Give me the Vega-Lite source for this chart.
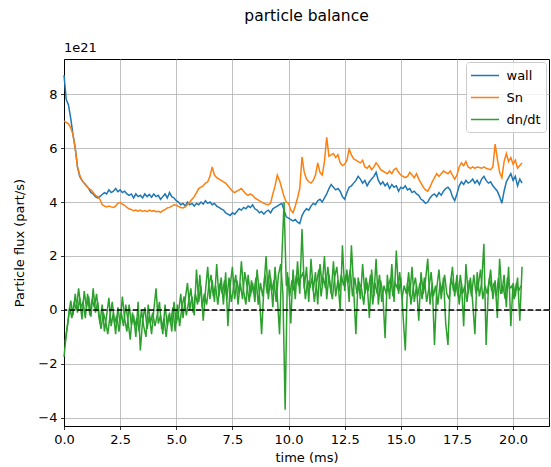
{
"$schema": "https://vega.github.io/schema/vega-lite/v6.json",
"width": 485, "height": 367,
"autosize": {"type": "none"},
"padding": {"left": 64, "top": 59, "right": 2, "bottom": 41},
"title": {"text": "particle balance", "fontSize": 15.5, "fontWeight": "normal", "anchor": "middle", "offset": 18, "color": "black"},
"datasets": {"pb": [
{"t":0.0,"wall":8.7,"Sn":7.0,"dn/dt":-1.74},
{"t":0.1,"wall":7.8,"Sn":6.95,"dn/dt":-0.9},
{"t":0.2,"wall":7.6,"Sn":6.9,"dn/dt":-0.3},
{"t":0.3,"wall":7.1,"Sn":6.75,"dn/dt":0.35},
{"t":0.4,"wall":6.5,"Sn":6.5,"dn/dt":-0.2},
{"t":0.5,"wall":6.0,"Sn":6.0,"dn/dt":0.6},
{"t":0.6,"wall":5.3,"Sn":5.3,"dn/dt":-0.1},
{"t":0.7,"wall":4.95,"Sn":5.0,"dn/dt":0.45},
{"t":0.8,"wall":4.8,"Sn":4.8,"dn/dt":-0.35},
{"t":0.9,"wall":4.7,"Sn":4.7,"dn/dt":0.7},
{"t":1.0,"wall":4.6,"Sn":4.6,"dn/dt":0.1},
{"t":1.1,"wall":4.5,"Sn":4.5,"dn/dt":0.5},
{"t":1.2,"wall":4.35,"Sn":4.45,"dn/dt":-0.25},
{"t":1.3,"wall":4.3,"Sn":4.35,"dn/dt":0.8},
{"t":1.4,"wall":4.2,"Sn":4.25,"dn/dt":-0.1},
{"t":1.5,"wall":4.15,"Sn":4.2,"dn/dt":0.3},
{"t":1.6,"wall":4.2,"Sn":4.1,"dn/dt":-0.5},
{"t":1.7,"wall":4.28,"Sn":3.9,"dn/dt":0.2},
{"t":1.8,"wall":4.35,"Sn":3.85,"dn/dt":-0.8},
{"t":1.9,"wall":4.3,"Sn":3.82,"dn/dt":-0.2},
{"t":2.0,"wall":4.45,"Sn":3.85,"dn/dt":0.45},
{"t":2.1,"wall":4.35,"Sn":3.82,"dn/dt":-0.6},
{"t":2.2,"wall":4.4,"Sn":3.8,"dn/dt":-0.1},
{"t":2.3,"wall":4.5,"Sn":3.85,"dn/dt":-0.9},
{"t":2.4,"wall":4.38,"Sn":3.95,"dn/dt":0.1},
{"t":2.5,"wall":4.45,"Sn":3.98,"dn/dt":-0.5},
{"t":2.6,"wall":4.35,"Sn":3.92,"dn/dt":0.5},
{"t":2.7,"wall":4.4,"Sn":3.88,"dn/dt":-0.3},
{"t":2.8,"wall":4.3,"Sn":3.8,"dn/dt":-0.8},
{"t":2.9,"wall":4.25,"Sn":3.75,"dn/dt":0.2},
{"t":3.0,"wall":4.3,"Sn":3.72,"dn/dt":-0.55},
{"t":3.1,"wall":4.15,"Sn":3.68,"dn/dt":-0.2},
{"t":3.2,"wall":4.3,"Sn":3.7,"dn/dt":-1.0},
{"t":3.3,"wall":4.2,"Sn":3.66,"dn/dt":0.3},
{"t":3.4,"wall":4.25,"Sn":3.7,"dn/dt":-1.5},
{"t":3.5,"wall":4.15,"Sn":3.65,"dn/dt":-0.4},
{"t":3.6,"wall":4.3,"Sn":3.68,"dn/dt":0.1},
{"t":3.7,"wall":4.2,"Sn":3.64,"dn/dt":-0.7},
{"t":3.8,"wall":4.28,"Sn":3.7,"dn/dt":-0.2},
{"t":3.9,"wall":4.18,"Sn":3.66,"dn/dt":-0.9},
{"t":4.0,"wall":4.3,"Sn":3.68,"dn/dt":0.0},
{"t":4.1,"wall":4.2,"Sn":3.64,"dn/dt":0.8},
{"t":4.2,"wall":4.25,"Sn":3.66,"dn/dt":-0.5},
{"t":4.3,"wall":4.1,"Sn":3.62,"dn/dt":-0.2},
{"t":4.4,"wall":4.2,"Sn":3.68,"dn/dt":-0.9},
{"t":4.5,"wall":4.3,"Sn":3.72,"dn/dt":0.2},
{"t":4.6,"wall":4.15,"Sn":3.78,"dn/dt":-0.6},
{"t":4.7,"wall":4.35,"Sn":3.8,"dn/dt":-0.1},
{"t":4.8,"wall":4.2,"Sn":3.85,"dn/dt":-0.8},
{"t":4.9,"wall":4.15,"Sn":3.9,"dn/dt":0.3},
{"t":5.0,"wall":4.05,"Sn":3.88,"dn/dt":-0.5},
{"t":5.1,"wall":4.0,"Sn":3.84,"dn/dt":-0.1},
{"t":5.2,"wall":3.9,"Sn":3.8,"dn/dt":0.6},
{"t":5.3,"wall":3.95,"Sn":3.78,"dn/dt":-0.3},
{"t":5.4,"wall":3.85,"Sn":3.82,"dn/dt":0.4},
{"t":5.5,"wall":4.0,"Sn":3.9,"dn/dt":1.0},
{"t":5.6,"wall":3.9,"Sn":4.0,"dn/dt":0.0},
{"t":5.7,"wall":3.95,"Sn":4.1,"dn/dt":0.5},
{"t":5.8,"wall":3.85,"Sn":4.2,"dn/dt":-0.2},
{"t":5.9,"wall":3.95,"Sn":4.35,"dn/dt":1.5},
{"t":6.0,"wall":3.9,"Sn":4.5,"dn/dt":0.3},
{"t":6.1,"wall":4.0,"Sn":4.55,"dn/dt":0.9},
{"t":6.2,"wall":3.92,"Sn":4.6,"dn/dt":-0.4},
{"t":6.3,"wall":4.05,"Sn":4.7,"dn/dt":0.7},
{"t":6.4,"wall":3.95,"Sn":4.75,"dn/dt":1.6},
{"t":6.5,"wall":4.0,"Sn":4.95,"dn/dt":0.4},
{"t":6.6,"wall":3.9,"Sn":5.3,"dn/dt":1.1},
{"t":6.7,"wall":3.95,"Sn":5.0,"dn/dt":0.3},
{"t":6.8,"wall":3.85,"Sn":4.9,"dn/dt":1.7},
{"t":6.9,"wall":3.8,"Sn":4.85,"dn/dt":0.5},
{"t":7.0,"wall":3.75,"Sn":4.8,"dn/dt":1.2},
{"t":7.1,"wall":3.7,"Sn":4.75,"dn/dt":0.2},
{"t":7.2,"wall":3.6,"Sn":4.7,"dn/dt":1.4},
{"t":7.3,"wall":3.55,"Sn":4.6,"dn/dt":-0.6},
{"t":7.4,"wall":3.5,"Sn":4.5,"dn/dt":0.9},
{"t":7.5,"wall":3.6,"Sn":4.4,"dn/dt":1.6},
{"t":7.6,"wall":3.55,"Sn":4.35,"dn/dt":0.4},
{"t":7.7,"wall":3.65,"Sn":4.4,"dn/dt":1.1},
{"t":7.8,"wall":3.75,"Sn":4.45,"dn/dt":0.6},
{"t":7.9,"wall":3.7,"Sn":4.5,"dn/dt":1.8},
{"t":8.0,"wall":3.8,"Sn":4.4,"dn/dt":0.7},
{"t":8.1,"wall":3.75,"Sn":4.3,"dn/dt":0.2},
{"t":8.2,"wall":3.85,"Sn":4.25,"dn/dt":1.3},
{"t":8.3,"wall":3.8,"Sn":4.3,"dn/dt":0.5},
{"t":8.4,"wall":3.9,"Sn":4.25,"dn/dt":1.0},
{"t":8.5,"wall":3.75,"Sn":4.15,"dn/dt":0.3},
{"t":8.6,"wall":3.7,"Sn":4.1,"dn/dt":1.5},
{"t":8.7,"wall":3.6,"Sn":4.05,"dn/dt":0.6},
{"t":8.8,"wall":3.65,"Sn":4.0,"dn/dt":-0.9},
{"t":8.9,"wall":3.55,"Sn":3.95,"dn/dt":0.8},
{"t":9.0,"wall":3.65,"Sn":3.92,"dn/dt":2.0},
{"t":9.1,"wall":3.7,"Sn":3.9,"dn/dt":0.4},
{"t":9.2,"wall":3.6,"Sn":3.95,"dn/dt":1.2},
{"t":9.3,"wall":3.75,"Sn":4.3,"dn/dt":0.1},
{"t":9.4,"wall":3.8,"Sn":4.6,"dn/dt":1.6},
{"t":9.5,"wall":3.85,"Sn":5.0,"dn/dt":0.5},
{"t":9.6,"wall":3.9,"Sn":4.8,"dn/dt":-0.9},
{"t":9.7,"wall":3.95,"Sn":4.5,"dn/dt":1.9},
{"t":9.8,"wall":3.7,"Sn":4.2,"dn/dt":4.0},
{"t":9.9,"wall":3.45,"Sn":4.0,"dn/dt":0.9},
{"t":10.0,"wall":3.4,"Sn":3.95,"dn/dt":1.2},
{"t":10.1,"wall":3.35,"Sn":3.7,"dn/dt":-0.5},
{"t":10.2,"wall":3.3,"Sn":3.6,"dn/dt":1.5},
{"t":10.3,"wall":3.35,"Sn":3.85,"dn/dt":0.4},
{"t":10.4,"wall":3.25,"Sn":4.15,"dn/dt":1.8},
{"t":10.5,"wall":3.2,"Sn":4.5,"dn/dt":0.6},
{"t":10.6,"wall":3.5,"Sn":5.67,"dn/dt":3.0},
{"t":10.7,"wall":3.65,"Sn":5.1,"dn/dt":0.8},
{"t":10.8,"wall":3.75,"Sn":4.85,"dn/dt":1.6},
{"t":10.9,"wall":3.7,"Sn":4.75,"dn/dt":0.3},
{"t":11.0,"wall":3.85,"Sn":4.7,"dn/dt":1.9},
{"t":11.1,"wall":3.95,"Sn":4.8,"dn/dt":0.7},
{"t":11.2,"wall":3.9,"Sn":5.0,"dn/dt":1.4},
{"t":11.3,"wall":4.05,"Sn":5.45,"dn/dt":0.2},
{"t":11.4,"wall":4.1,"Sn":5.1,"dn/dt":1.7},
{"t":11.5,"wall":4.0,"Sn":5.0,"dn/dt":0.9},
{"t":11.6,"wall":4.15,"Sn":5.5,"dn/dt":2.0},
{"t":11.7,"wall":4.3,"Sn":6.4,"dn/dt":0.4},
{"t":11.8,"wall":4.5,"Sn":5.7,"dn/dt":1.3},
{"t":11.9,"wall":4.65,"Sn":5.75,"dn/dt":0.6},
{"t":12.0,"wall":4.55,"Sn":5.8,"dn/dt":1.8},
{"t":12.1,"wall":4.45,"Sn":5.65,"dn/dt":0.5},
{"t":12.2,"wall":4.5,"Sn":5.75,"dn/dt":1.1},
{"t":12.3,"wall":4.4,"Sn":5.45,"dn/dt":0.0},
{"t":12.4,"wall":4.2,"Sn":5.35,"dn/dt":2.4},
{"t":12.5,"wall":4.1,"Sn":5.4,"dn/dt":0.7},
{"t":12.6,"wall":4.35,"Sn":5.55,"dn/dt":1.5},
{"t":12.7,"wall":4.55,"Sn":5.95,"dn/dt":0.3},
{"t":12.8,"wall":4.6,"Sn":5.75,"dn/dt":2.4},
{"t":12.9,"wall":4.7,"Sn":5.6,"dn/dt":0.8},
{"t":13.0,"wall":4.8,"Sn":5.55,"dn/dt":-0.9},
{"t":13.1,"wall":4.95,"Sn":5.5,"dn/dt":1.2},
{"t":13.2,"wall":4.85,"Sn":5.45,"dn/dt":0.4},
{"t":13.3,"wall":4.7,"Sn":5.55,"dn/dt":1.7},
{"t":13.4,"wall":4.8,"Sn":5.3,"dn/dt":0.6},
{"t":13.5,"wall":4.6,"Sn":5.25,"dn/dt":1.0},
{"t":13.6,"wall":4.75,"Sn":5.35,"dn/dt":-0.3},
{"t":13.7,"wall":4.85,"Sn":5.2,"dn/dt":1.5},
{"t":13.8,"wall":4.95,"Sn":5.3,"dn/dt":0.5},
{"t":13.9,"wall":5.1,"Sn":5.45,"dn/dt":1.9},
{"t":14.0,"wall":4.8,"Sn":5.35,"dn/dt":0.2},
{"t":14.1,"wall":4.65,"Sn":5.2,"dn/dt":1.1},
{"t":14.2,"wall":4.75,"Sn":5.15,"dn/dt":0.6},
{"t":14.3,"wall":4.6,"Sn":5.1,"dn/dt":-1.05},
{"t":14.4,"wall":4.7,"Sn":5.05,"dn/dt":1.3},
{"t":14.5,"wall":4.5,"Sn":5.15,"dn/dt":0.4},
{"t":14.6,"wall":4.65,"Sn":5.05,"dn/dt":1.7},
{"t":14.7,"wall":4.55,"Sn":5.2,"dn/dt":0.3},
{"t":14.8,"wall":4.6,"Sn":5.25,"dn/dt":2.2},
{"t":14.9,"wall":4.4,"Sn":5.1,"dn/dt":0.6},
{"t":15.0,"wall":4.55,"Sn":5.0,"dn/dt":1.2},
{"t":15.1,"wall":4.5,"Sn":4.95,"dn/dt":-0.2},
{"t":15.2,"wall":4.6,"Sn":4.9,"dn/dt":-1.5},
{"t":15.3,"wall":4.45,"Sn":4.95,"dn/dt":1.0},
{"t":15.4,"wall":4.5,"Sn":5.1,"dn/dt":0.5},
{"t":15.5,"wall":4.35,"Sn":5.0,"dn/dt":1.6},
{"t":15.6,"wall":4.4,"Sn":4.9,"dn/dt":0.3},
{"t":15.7,"wall":4.3,"Sn":5.05,"dn/dt":0.9},
{"t":15.8,"wall":4.25,"Sn":4.85,"dn/dt":-0.4},
{"t":15.9,"wall":4.1,"Sn":4.7,"dn/dt":1.4},
{"t":16.0,"wall":4.05,"Sn":4.55,"dn/dt":0.6},
{"t":16.1,"wall":3.95,"Sn":4.45,"dn/dt":1.1},
{"t":16.2,"wall":4.0,"Sn":4.4,"dn/dt":1.9},
{"t":16.3,"wall":4.15,"Sn":4.55,"dn/dt":0.2},
{"t":16.4,"wall":4.25,"Sn":4.75,"dn/dt":1.0},
{"t":16.5,"wall":4.3,"Sn":4.9,"dn/dt":-1.3},
{"t":16.6,"wall":4.2,"Sn":5.05,"dn/dt":0.8},
{"t":16.7,"wall":4.35,"Sn":4.95,"dn/dt":1.5},
{"t":16.8,"wall":4.25,"Sn":5.05,"dn/dt":0.4},
{"t":16.9,"wall":4.4,"Sn":5.15,"dn/dt":1.2},
{"t":17.0,"wall":4.5,"Sn":5.1,"dn/dt":-0.5},
{"t":17.1,"wall":4.55,"Sn":5.05,"dn/dt":-1.3},
{"t":17.2,"wall":4.45,"Sn":5.15,"dn/dt":0.9},
{"t":17.3,"wall":4.2,"Sn":5.0,"dn/dt":1.6},
{"t":17.4,"wall":4.05,"Sn":4.85,"dn/dt":0.5},
{"t":17.5,"wall":4.3,"Sn":5.0,"dn/dt":1.3},
{"t":17.6,"wall":4.6,"Sn":5.3,"dn/dt":0.2},
{"t":17.7,"wall":4.75,"Sn":5.45,"dn/dt":1.0},
{"t":17.8,"wall":4.65,"Sn":5.35,"dn/dt":-0.6},
{"t":17.9,"wall":4.8,"Sn":5.5,"dn/dt":1.7},
{"t":18.0,"wall":4.7,"Sn":5.3,"dn/dt":0.6},
{"t":18.1,"wall":4.75,"Sn":5.25,"dn/dt":1.2},
{"t":18.2,"wall":4.85,"Sn":5.3,"dn/dt":0.3},
{"t":18.3,"wall":4.7,"Sn":5.25,"dn/dt":-0.9},
{"t":18.4,"wall":4.8,"Sn":5.3,"dn/dt":1.4},
{"t":18.5,"wall":4.65,"Sn":5.28,"dn/dt":0.5},
{"t":18.6,"wall":4.85,"Sn":5.25,"dn/dt":1.0},
{"t":18.7,"wall":4.95,"Sn":5.3,"dn/dt":2.45},
{"t":18.8,"wall":4.8,"Sn":5.25,"dn/dt":-1.3},
{"t":18.9,"wall":4.7,"Sn":5.22,"dn/dt":0.8},
{"t":19.0,"wall":4.75,"Sn":5.2,"dn/dt":1.5},
{"t":19.1,"wall":4.6,"Sn":5.3,"dn/dt":0.4},
{"t":19.2,"wall":4.5,"Sn":6.15,"dn/dt":1.1},
{"t":19.3,"wall":4.4,"Sn":5.6,"dn/dt":-0.3},
{"t":19.4,"wall":4.2,"Sn":5.1,"dn/dt":1.9},
{"t":19.5,"wall":3.95,"Sn":4.9,"dn/dt":0.6},
{"t":19.6,"wall":4.4,"Sn":5.5,"dn/dt":1.3},
{"t":19.7,"wall":4.75,"Sn":5.8,"dn/dt":0.1},
{"t":19.8,"wall":4.9,"Sn":5.5,"dn/dt":1.6},
{"t":19.9,"wall":5.05,"Sn":5.65,"dn/dt":-0.6},
{"t":20.0,"wall":4.8,"Sn":5.4,"dn/dt":1.0},
{"t":20.1,"wall":4.95,"Sn":5.55,"dn/dt":0.5},
{"t":20.2,"wall":4.6,"Sn":5.25,"dn/dt":1.2},
{"t":20.3,"wall":4.85,"Sn":5.35,"dn/dt":-0.4},
{"t":20.4,"wall":4.7,"Sn":5.45,"dn/dt":1.6}
],
"dn": [
{"t":0.05,"v":-1.2},{"t":0.15,"v":-0.6},{"t":0.25,"v":0.1},{"t":0.35,"v":-0.3},{"t":0.45,"v":0.3},{"t":0.55,"v":0.0},{"t":0.65,"v":0.8},{"t":0.75,"v":0.1},{"t":0.85,"v":0.3},{"t":0.95,"v":-0.3},
{"t":1.05,"v":0.6},{"t":1.15,"v":-0.2},{"t":1.25,"v":0.4},{"t":1.35,"v":0.1},{"t":1.45,"v":0.6},{"t":1.55,"v":-0.2},{"t":1.65,"v":-0.7},{"t":1.75,"v":-0.1},{"t":1.85,"v":-0.4},{"t":1.95,"v":-0.9},
{"t":2.05,"v":-0.2},{"t":2.15,"v":0.3},{"t":2.25,"v":-0.5},{"t":2.35,"v":-0.2},{"t":2.45,"v":-0.8},{"t":2.55,"v":-0.1},{"t":2.65,"v":-0.6},{"t":2.75,"v":0.2},{"t":2.85,"v":-0.4},{"t":2.95,"v":-1.1},
{"t":3.05,"v":-0.1},{"t":3.15,"v":-0.6},{"t":3.25,"v":-0.3},{"t":3.35,"v":-0.8},{"t":3.45,"v":0.0},{"t":3.55,"v":-0.6},{"t":3.65,"v":-1.0},{"t":3.75,"v":0.2},{"t":3.85,"v":-0.5},{"t":3.95,"v":-0.1},
{"t":4.05,"v":-0.6},{"t":4.15,"v":-0.2},{"t":4.25,"v":0.3},{"t":4.35,"v":-0.7},{"t":4.45,"v":-0.3},{"t":4.55,"v":-1.0},{"t":4.65,"v":-0.2},{"t":4.75,"v":-0.5},{"t":4.85,"v":0.1},{"t":4.95,"v":-0.8},
{"t":5.05,"v":0.2},{"t":5.15,"v":-0.6},{"t":5.25,"v":0.1},{"t":5.35,"v":0.5},{"t":5.45,"v":-0.2},{"t":5.55,"v":0.3},{"t":5.65,"v":0.8},{"t":5.75,"v":-0.1},{"t":5.85,"v":0.6},{"t":5.95,"v":0.2},
{"t":6.05,"v":1.3},{"t":6.15,"v":0.1},{"t":6.25,"v":0.6},{"t":6.35,"v":0.2},{"t":6.45,"v":0.9},{"t":6.55,"v":1.3},{"t":6.65,"v":0.5},{"t":6.75,"v":0.9},{"t":6.85,"v":0.2},{"t":6.95,"v":1.0},
{"t":7.05,"v":0.6},{"t":7.15,"v":1.1},{"t":7.25,"v":0.4},{"t":7.35,"v":1.2},{"t":7.45,"v":0.3},{"t":7.55,"v":0.8},{"t":7.65,"v":1.3},{"t":7.75,"v":0.2},{"t":7.85,"v":1.0},{"t":7.95,"v":0.4},
{"t":8.05,"v":1.4},{"t":8.15,"v":0.9},{"t":8.25,"v":0.3},{"t":8.35,"v":1.1},{"t":8.45,"v":0.6},{"t":8.55,"v":1.2},{"t":8.65,"v":0.2},{"t":8.75,"v":1.0},{"t":8.85,"v":0.5},{"t":8.95,"v":1.3},
{"t":9.05,"v":0.6},{"t":9.15,"v":1.5},{"t":9.25,"v":0.7},{"t":9.35,"v":1.1},{"t":9.45,"v":0.3},{"t":9.55,"v":1.3},{"t":9.65,"v":1.7},{"t":9.75,"v":0.6},{"t":9.85,"v":-3.7},{"t":9.95,"v":1.4},
{"t":10.05,"v":0.5},{"t":10.15,"v":1.1},{"t":10.25,"v":0.7},{"t":10.35,"v":1.3},{"t":10.45,"v":0.9},{"t":10.55,"v":1.2},{"t":10.65,"v":1.4},{"t":10.75,"v":0.4},{"t":10.85,"v":1.1},{"t":10.95,"v":0.8},
{"t":11.05,"v":1.2},{"t":11.15,"v":0.3},{"t":11.25,"v":1.0},{"t":11.35,"v":1.5},{"t":11.45,"v":0.5},{"t":11.55,"v":1.2},{"t":11.65,"v":0.8},{"t":11.75,"v":1.6},{"t":11.85,"v":0.9},{"t":11.95,"v":0.4},
{"t":12.05,"v":1.2},{"t":12.15,"v":1.6},{"t":12.25,"v":0.7},{"t":12.35,"v":1.3},{"t":12.45,"v":0.9},{"t":12.55,"v":1.3},{"t":12.65,"v":1.0},{"t":12.75,"v":1.5},{"t":12.85,"v":0.5},{"t":12.95,"v":1.2},
{"t":13.05,"v":0.6},{"t":13.15,"v":1.0},{"t":13.25,"v":0.8},{"t":13.35,"v":0.2},{"t":13.45,"v":1.2},{"t":13.55,"v":0.7},{"t":13.65,"v":1.3},{"t":13.75,"v":0.2},{"t":13.85,"v":1.0},{"t":13.95,"v":0.6},
{"t":14.05,"v":1.3},{"t":14.15,"v":0.3},{"t":14.25,"v":0.9},{"t":14.35,"v":0.6},{"t":14.45,"v":0.9},{"t":14.55,"v":1.2},{"t":14.65,"v":0.5},{"t":14.75,"v":1.0},{"t":14.85,"v":0.8},{"t":14.95,"v":1.4},
{"t":15.05,"v":0.4},{"t":15.15,"v":0.9},{"t":15.25,"v":0.6},{"t":15.35,"v":1.4},{"t":15.45,"v":0.2},{"t":15.55,"v":0.8},{"t":15.65,"v":1.2},{"t":15.75,"v":0.5},{"t":15.85,"v":1.0},{"t":15.95,"v":0.4},
{"t":16.05,"v":1.2},{"t":16.15,"v":0.3},{"t":16.25,"v":0.8},{"t":16.35,"v":1.4},{"t":16.45,"v":0.5},{"t":16.55,"v":0.9},{"t":16.65,"v":0.2},{"t":16.75,"v":1.0},{"t":16.85,"v":0.7},{"t":16.95,"v":1.3},
{"t":17.05,"v":0.6},{"t":17.15,"v":0.4},{"t":17.25,"v":1.2},{"t":17.35,"v":0.7},{"t":17.45,"v":1.0},{"t":17.55,"v":0.5},{"t":17.65,"v":1.3},{"t":17.75,"v":0.6},{"t":17.85,"v":0.9},{"t":17.95,"v":0.3},
{"t":18.05,"v":1.1},{"t":18.15,"v":0.5},{"t":18.25,"v":1.3},{"t":18.35,"v":0.6},{"t":18.45,"v":0.9},{"t":18.55,"v":1.5},{"t":18.65,"v":0.4},{"t":18.75,"v":0.9},{"t":18.85,"v":0.6},{"t":18.95,"v":1.2},
{"t":19.05,"v":0.7},{"t":19.15,"v":1.0},{"t":19.25,"v":0.5},{"t":19.35,"v":1.2},{"t":19.45,"v":0.6},{"t":19.55,"v":0.9},{"t":19.65,"v":0.4},{"t":19.75,"v":1.2},{"t":19.85,"v":0.8},{"t":19.95,"v":0.9},
{"t":20.05,"v":0.4},{"t":20.15,"v":1.0},{"t":20.25,"v":0.7},{"t":20.35,"v":0.9}
]},
"layer": [
 {"data": {"name": "pb"},
  "transform": [{"fold": ["wall", "Sn", "dn/dt"], "as": ["series", "value"]}, {"filter": "datum.series == 'wall'"}],
  "mark": {"type": "line", "strokeWidth": 1.5},
  "encoding": {
   "x": {"field": "t", "type": "quantitative", "scale": {"domain": [0, 21.6], "nice": false, "zero": false},
         "axis": {"title": "time (ms)", "values": [0, 2.5, 5, 7.5, 10, 12.5, 15, 17.5, 20], "format": ".1f", "titlePadding": 5, "labelFlush": false}},
   "y": {"field": "value", "type": "quantitative", "scale": {"domain": [-4.3, 9.3], "nice": false, "zero": false},
         "axis": {"title": "Particle flux (part/s)", "values": [-4, -2, 0, 2, 4, 6, 8], "labelExpr": "replace(datum.label, '-', '\u2212')", "titlePadding": 11}},
   "color": {"field": "series", "type": "nominal", "scale": {"domain": ["wall", "Sn", "dn/dt"], "range": ["#1f77b4", "#ff7f0e", "#2ca02c"]}}}},
 {"data": {"name": "pb"},
  "transform": [{"fold": ["wall", "Sn", "dn/dt"], "as": ["series", "value"]}, {"filter": "datum.series == 'Sn'"}],
  "mark": {"type": "line", "strokeWidth": 1.5},
  "encoding": {
   "x": {"field": "t", "type": "quantitative"},
   "y": {"field": "value", "type": "quantitative"},
   "color": {"field": "series", "type": "nominal"}}},
 {"data": {"name": "pb"},
  "transform": [{"fold": ["dn/dt"], "as": ["series", "value"]}],
  "mark": {"type": "line", "strokeWidth": 1.5},
  "encoding": {
   "x": {"field": "t", "type": "quantitative"},
   "y": {"field": "value", "type": "quantitative"},
   "color": {"field": "series", "type": "nominal"}}},
 {"data": {"name": "dn"},
  "transform": [{"fold": ["v"], "as": ["k", "value"]}],
  "mark": {"type": "line", "strokeWidth": 1.5, "color": "#2ca02c"},
  "encoding": {
   "x": {"field": "t", "type": "quantitative"},
   "y": {"field": "value", "type": "quantitative"}}},
 {"data": {"values": [{}]},
  "mark": {"type": "rule", "color": "black", "strokeWidth": 1.5, "strokeDash": [5.5, 2.4]},
  "encoding": {"y": {"datum": 0}}},
 {"data": {"values": [{"lbl": "1e21"}]},
  "mark": {"type": "text", "align": "left", "baseline": "bottom", "dy": -4, "fontSize": 13, "color": "black"},
  "encoding": {"x": {"datum": 0}, "y": {"datum": 9.3}, "text": {"field": "lbl"}}}
],
"resolve": {"scale": {"color": "shared"}},
"config": {
 "font": "DejaVu Sans",
 "view": {"stroke": "black", "strokeWidth": 1},
 "axis": {"labelFontSize": 13, "titleFontSize": 13, "titleFontWeight": "normal", "labelColor": "black", "titleColor": "black", "gridColor": "#b0b0b0", "gridWidth": 0.8, "gridOpacity": 1, "domainColor": "black", "domainWidth": 1, "tickColor": "black", "tickSize": 3.5, "tickWidth": 0.8, "labelPadding": 3.5},
 "legend": {"orient": "top-right", "offset": 3, "title": null, "fillColor": "rgba(255,255,255,0.8)", "strokeColor": "#cccccc", "cornerRadius": 3, "padding": 5, "labelFontSize": 13, "labelColor": "black", "symbolType": "M-1.87,0H1.87", "symbolSize": 225, "symbolOffset": 5.5, "symbolStrokeWidth": 1.5, "rowPadding": 6, "labelOffset": 13}
}
}
